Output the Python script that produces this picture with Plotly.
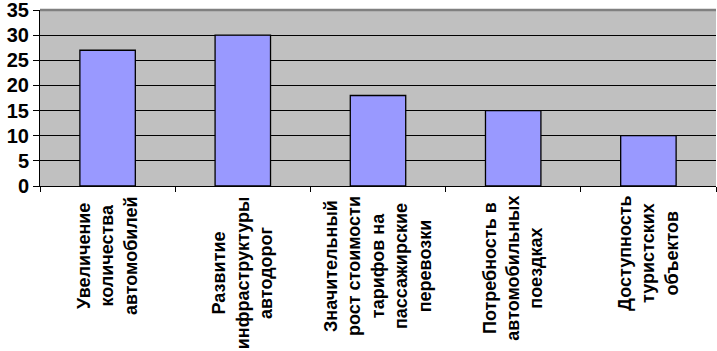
import plotly.graph_objects as go

categories = [
    "Увеличение<br>количества<br>автомобилей",
    "Развитие<br>инфраструктуры<br>автодорог",
    "Значительный<br>рост стоимости<br>тарифов на<br>пассажирские<br>перевозки",
    "Потребность в<br>автомобильных<br>поездках",
    "Доступность<br>туристских<br>объектов",
]
values = [27, 30, 18, 15, 10]
ytick_values = [0, 5, 10, 15, 20, 25, 30, 35]

cat_ids = [f"c{i}" for i in range(len(categories))]

FONT = "Liberation Sans, Arial, sans-serif"

fig = go.Figure(
    go.Bar(
        x=cat_ids,
        y=values,
        marker=dict(color="#9999FF", line=dict(color="black", width=1.3)),
        width=0.41,
    )
)

annotations = []
for cid, label in zip(cat_ids, categories):
    annotations.append(
        dict(
            x=cid, y=0, xref="x", yref="paper",
            text=label, textangle=-90, showarrow=False,
            xanchor="center", yanchor="top", yshift=-8,
            align="center",
            font=dict(family=FONT, size=18, color="black", weight="bold"),
        )
    )

fig.update_layout(
    width=717, height=351,
    margin=dict(l=40, r=1, t=10, b=165, autoexpand=False),
    paper_bgcolor="white",
    plot_bgcolor="#C0C0C0",
    showlegend=False,
    annotations=annotations,
    shapes=[dict(type="line", xref="paper", yref="paper", x0=0, x1=1, y0=1, y1=1,
                 line=dict(color="#808080", width=2.5), layer="above")],
    font=dict(family=FONT, color="black"),
)
fig.update_xaxes(
    type="category",
    tickson="boundaries",
    ticks="outside", ticklen=5, tickcolor="black", tickwidth=1,
    showticklabels=False,
    showline=True, linecolor="black", linewidth=1,
    showgrid=False,
    range=[-0.5, 4.5],
    automargin=False,
)
fig.update_yaxes(
    range=[0, 35],
    tickvals=ytick_values,
    ticks="outside", ticklen=6, tickcolor="black",
    showline=True, linecolor="black", linewidth=1,
    showgrid=True, gridcolor="black", gridwidth=1,
    zeroline=False,
    automargin=False,
    ticklabeloverflow="allow",
    tickfont=dict(family=FONT, size=20, color="black", weight="bold"),
)

fig.write_html(
    "out.html",
    config={"displayModeBar": False},
    post_script="document.body.style.margin='0';document.body.style.overflow='hidden';",
)
